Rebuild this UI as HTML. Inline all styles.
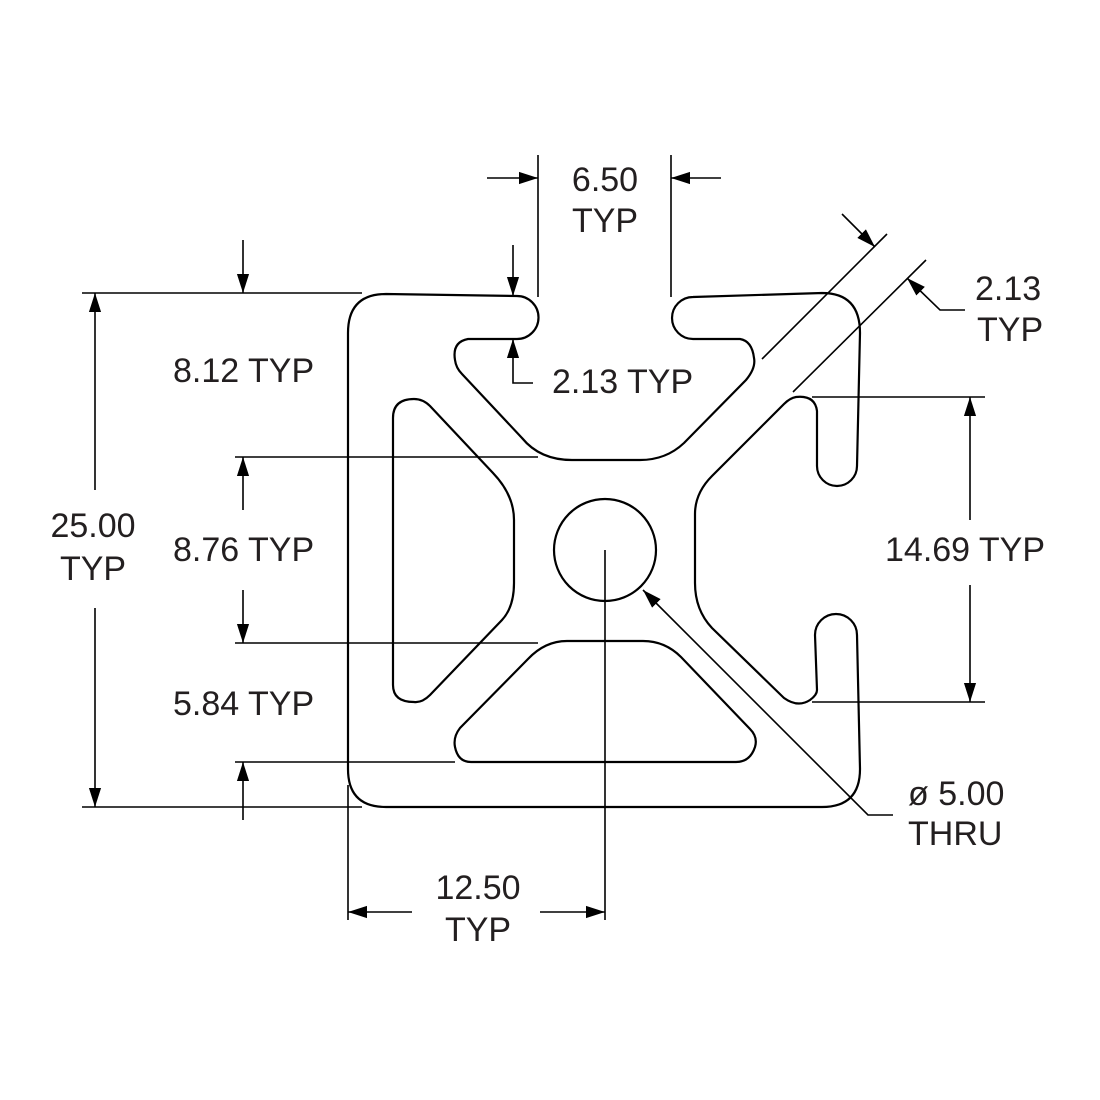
<!DOCTYPE html>
<html><head><meta charset="utf-8"><style>
html,body{margin:0;padding:0;background:#fff;}
svg{display:block;}
text{font-family:"Liberation Sans",Arial,sans-serif;font-size:34px;fill:#231f20;}
</style></head><body>
<svg width="1100" height="1100" viewBox="0 0 1100 1100" xmlns="http://www.w3.org/2000/svg">
<defs>
<marker id="a" viewBox="0 0 10 10" refX="10" refY="5" markerWidth="19" markerHeight="19" markerUnits="userSpaceOnUse" orient="auto"><path d="M0,1.8 L10,5 L0,8.2 z" fill="#000"/></marker>
</defs>
<g fill="none" stroke="#000" stroke-width="2.2" stroke-linejoin="round">
<path d="M386,294 L517,296 A21.5,21.5 0 0 1 517,339 L468,339 Q452,342 455,360 Q456,368 462,374 L522,438 Q540,460 572,460 L640,460 Q666,460 684,443 L746,380 Q756,368 754,358 Q752,341 740,339 L693,339 A21,21 0 0 1 693,297 L822,293 Q860,293 860,333 L857,466 A20,20 0 0 1 817,466 L817,411 Q815,395 796,397 Q790,398 784,404 L712,476 Q695,493 695,514 L695,583 Q695,610 712,628 L784,698 Q798,708 810,700 Q817,695 817,690 L815,635 A21,21 0 0 1 857,635 L860,769 Q860,807 822,807 L386,807 Q348,807 348,769 L348,333 Q348,294 386,294 Z"/>
<path d="M393,418 Q393,399 414,399 Q423,399 430,406 L493,473 Q514,495 514,520 L514,583 Q514,607 502,620 L430,695 Q422,703 414,702 Q393,702 393,685 Z"/>
<path d="M567,641 L643,641 Q665,641 681,657 L750,729 Q758,737 755,747 Q750,762 736,762 L471,762 Q458,762 455,747 Q453,737 460,728 L528,659 Q545,641 567,641 Z"/>
<circle cx="605" cy="550" r="51"/>
</g>
<g fill="none" stroke="#000" stroke-width="1.6">
<line x1="538" y1="155" x2="538" y2="297"/>
<line x1="671" y1="155" x2="671" y2="297"/>
<line x1="487" y1="178" x2="538" y2="178" marker-end="url(#a)"/>
<line x1="721" y1="178" x2="671" y2="178" marker-end="url(#a)"/>
<line x1="513" y1="245" x2="513" y2="296" marker-end="url(#a)"/>
<polyline points="533,383 513,383 513,339" marker-end="url(#a)"/>
<line x1="82" y1="293" x2="362" y2="293"/>
<line x1="82" y1="807" x2="362" y2="807"/>
<line x1="95" y1="490" x2="95" y2="293" marker-end="url(#a)"/>
<line x1="95" y1="608" x2="95" y2="807" marker-end="url(#a)"/>
<line x1="243" y1="240" x2="243" y2="293" marker-end="url(#a)"/>
<line x1="235" y1="457" x2="538" y2="457"/>
<line x1="235" y1="643" x2="538" y2="643"/>
<line x1="243" y1="510" x2="243" y2="457" marker-end="url(#a)"/>
<line x1="243" y1="590" x2="243" y2="643" marker-end="url(#a)"/>
<line x1="235" y1="762" x2="455" y2="762"/>
<line x1="243" y1="820" x2="243" y2="762" marker-end="url(#a)"/>
<line x1="812" y1="397" x2="985" y2="397"/>
<line x1="812" y1="702" x2="985" y2="702"/>
<line x1="970" y1="520" x2="970" y2="397" marker-end="url(#a)"/>
<line x1="970" y1="585" x2="970" y2="702" marker-end="url(#a)"/>
<line x1="762" y1="359" x2="887" y2="234"/>
<line x1="793" y1="392" x2="926" y2="260"/>
<line x1="842" y1="214" x2="875" y2="247" marker-end="url(#a)"/>
<polyline points="965,310 940,310 907,278" marker-end="url(#a)"/>
<polyline points="893,815 868,815 643,590" marker-end="url(#a)"/>
<line x1="348" y1="785" x2="348" y2="920"/>
<line x1="605" y1="550" x2="605" y2="920"/>
<line x1="412" y1="912" x2="348" y2="912" marker-end="url(#a)"/>
<line x1="540" y1="912" x2="605" y2="912" marker-end="url(#a)"/>
</g>
<text x="605" y="191" text-anchor="middle">6.50</text>
<text x="605" y="232" text-anchor="middle">TYP</text>
<text x="552" y="393">2.13 TYP</text>
<text x="173" y="382">8.12 TYP</text>
<text x="173" y="561">8.76 TYP</text>
<text x="173" y="715">5.84 TYP</text>
<text x="93" y="537" text-anchor="middle">25.00</text>
<text x="93" y="580" text-anchor="middle">TYP</text>
<text x="885" y="561">14.69 TYP</text>
<text x="975" y="300">2.13</text>
<text x="977" y="341">TYP</text>
<text x="908" y="805">ø 5.00</text>
<text x="908" y="845">THRU</text>
<text x="478" y="899" text-anchor="middle">12.50</text>
<text x="478" y="941" text-anchor="middle">TYP</text>
</svg>
</body></html>
